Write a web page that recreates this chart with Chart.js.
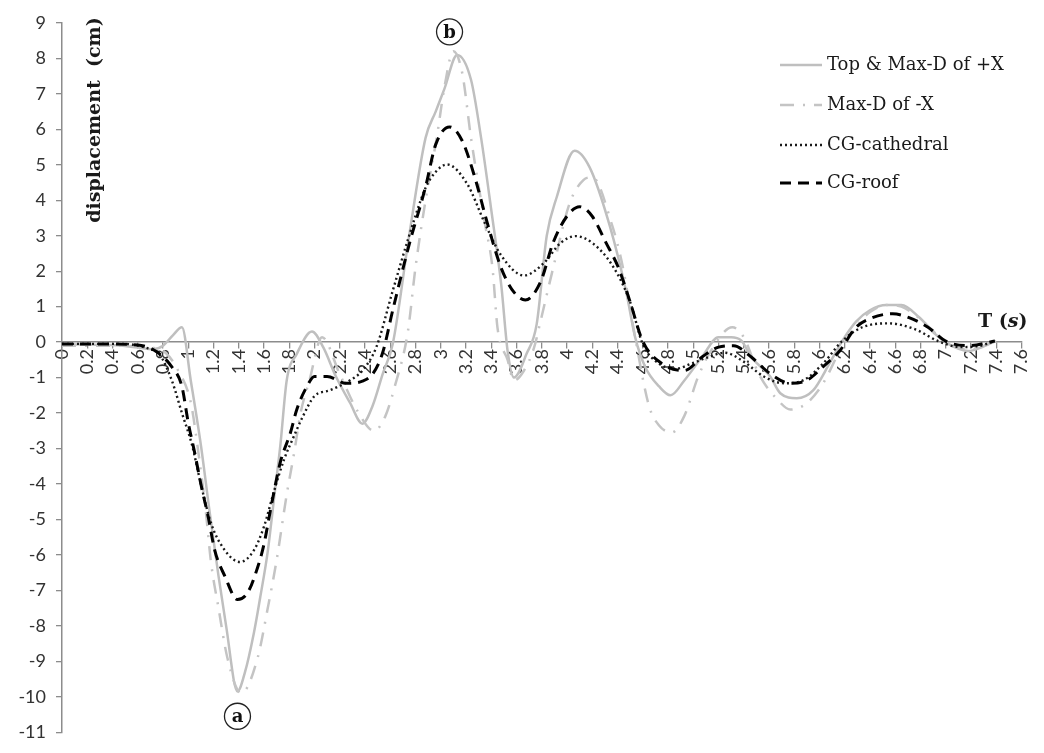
<!DOCTYPE html>
<html>
<head>
<meta charset="utf-8">
<script src="https://cdn.jsdelivr.net/npm/chart.js@4/dist/chart.umd.min.js"></script>
<style>
  html, body { margin: 0; background: #fff; }
</style>
</head>
<body>
<canvas id="chart" width="1044" height="753"></canvas>
<script>
// series: Top & Max-D of +X
const tPlusX = [0,0.2,0.4,0.6,0.72,0.8,0.88,0.95,1.02,1.1,1.17,1.24,1.3,1.39,1.45,1.52,1.57,1.63,1.68,1.73,1.78,1.86,1.98,2.07,2.17,2.28,2.38,2.46,2.54,2.62,2.75,2.88,2.96,3.03,3.13,3.24,3.32,3.4,3.48,3.53,3.58,3.68,3.76,3.84,3.92,4.06,4.18,4.34,4.47,4.54,4.62,4.73,4.82,4.93,5.07,5.2,5.3,5.38,5.46,5.61,5.69,5.82,5.95,6.08,6.18,6.29,6.4,6.53,6.65,6.79,6.92,7.02,7.18,7.28,7.39];
const dPlusX = [-0.05,-0.07,-0.08,-0.15,-0.2,-0.1,0.2,0.42,-1.08,-2.9,-4.8,-6.6,-8.0,-9.85,-9.3,-8.2,-7.2,-5.9,-4.4,-2.9,-1.08,-0.33,0.3,-0.15,-0.97,-1.7,-2.3,-1.8,-0.9,-0.05,3.0,5.76,6.5,7.15,8.1,7.4,5.76,3.74,1.6,-0.25,-1.0,-0.33,0.5,3.0,4.1,5.4,4.93,3.27,1.41,0.14,-0.7,-1.25,-1.5,-1.08,-0.42,0.14,0.14,0.05,-0.42,-0.97,-1.44,-1.58,-1.36,-0.6,0.03,0.58,0.9,1.05,1.05,0.7,0.22,-0.05,-0.25,-0.15,0.03];

// series: Max-D of -X
const tMinusX = [0,0.3,0.6,0.7,0.82,0.92,1.02,1.08,1.14,1.18,1.24,1.31,1.42,1.55,1.63,1.7,1.78,1.84,1.89,1.96,2.06,2.2,2.35,2.47,2.56,2.64,2.74,2.8,2.88,2.97,3.03,3.1,3.17,3.24,3.35,3.41,3.45,3.53,3.58,3.66,3.74,3.79,3.89,4.02,4.13,4.2,4.36,4.44,4.54,4.65,4.73,4.83,4.93,5.04,5.14,5.31,5.4,5.52,5.67,5.77,5.9,6.03,6.16,6.26,6.4,6.55,6.65,6.8,6.95,7.05,7.2,7.3,7.4];
const dMinusX = [-0.1,-0.1,-0.12,-0.15,-0.3,-0.8,-1.7,-3.1,-4.8,-6.2,-7.5,-8.9,-9.9,-8.9,-7.5,-6.15,-4.3,-3.1,-2.0,-1.08,0.14,-0.9,-2.0,-2.5,-2.1,-1.2,0.3,2.1,4.0,5.8,7.2,8.2,7.6,5.76,3.35,2.1,0.4,-0.5,-1.08,-0.8,-0.15,0.58,2.08,3.9,4.57,4.65,3.27,2.16,0.14,-1.8,-2.35,-2.55,-2.08,-0.97,-0.25,0.42,0.14,-0.9,-1.63,-1.9,-1.72,-1.16,-0.25,0.3,0.85,1.05,1.0,0.65,0.15,-0.1,-0.2,-0.1,0.03];

// series: CG-cathedral
const tCathedral = [0,0.3,0.5,0.6,0.7,0.77,0.87,0.95,1.03,1.1,1.18,1.29,1.41,1.52,1.6,1.68,1.76,1.84,1.91,2.0,2.12,2.28,2.38,2.49,2.62,2.75,2.88,2.96,3.05,3.21,3.35,3.48,3.66,3.82,3.95,4.07,4.2,4.36,4.5,4.6,4.7,4.86,4.99,5.1,5.25,5.4,5.56,5.72,5.87,6.03,6.18,6.34,6.55,6.76,6.94,7.12,7.25,7.39];
const dCathedral = [-0.05,-0.05,-0.05,-0.1,-0.2,-0.33,-1.08,-2.0,-2.9,-4.0,-5.1,-5.87,-6.2,-5.87,-5.2,-4.2,-3.3,-2.63,-2.08,-1.52,-1.36,-1.08,-0.8,-0.14,1.45,3.0,4.35,4.8,5.01,4.46,3.35,2.44,1.88,2.24,2.8,2.99,2.8,2.16,1.14,-0.05,-0.53,-0.75,-0.6,-0.45,-0.3,-0.55,-0.97,-1.16,-1.08,-0.6,0.03,0.42,0.53,0.36,0.03,-0.14,-0.12,0.03];

// series: CG-roof
const tRoof = [0,0.3,0.6,0.74,0.87,0.95,1.0,1.05,1.1,1.16,1.21,1.29,1.39,1.47,1.55,1.6,1.65,1.73,1.81,1.86,1.94,2.0,2.1,2.25,2.38,2.46,2.54,2.62,2.75,2.88,2.96,3.07,3.17,3.27,3.37,3.48,3.58,3.67,3.79,3.89,4.0,4.1,4.2,4.31,4.41,4.5,4.6,4.75,4.93,5.07,5.2,5.32,5.46,5.61,5.77,5.9,6.03,6.16,6.29,6.42,6.58,6.71,6.86,7.0,7.18,7.39];
const dRoof = [-0.05,-0.05,-0.08,-0.25,-0.7,-1.25,-2.27,-3.1,-4.0,-4.96,-5.87,-6.6,-7.26,-7.07,-6.35,-5.7,-4.76,-3.38,-2.55,-1.9,-1.25,-0.97,-0.97,-1.16,-1.1,-0.9,-0.3,0.9,2.75,4.38,5.57,6.07,5.68,4.65,3.35,2.08,1.41,1.19,1.69,2.8,3.55,3.82,3.55,2.8,2.08,1.14,0.03,-0.6,-0.8,-0.42,-0.14,-0.1,-0.42,-0.89,-1.16,-1.08,-0.69,-0.25,0.42,0.69,0.8,0.69,0.42,0.03,-0.1,0.03];

const seriesNames = ["Top & Max-D of +X", "Max-D of -X", "CG-cathedral", "CG-roof"];
const xMin = 0, xMax = 7.6, xStep = 0.2;
const yMin = -11, yMax = 9, yStep = 1;

// circled markers: [label, t, value]
const markers = [["a", 1.39, -10.55], ["b", 3.07, 8.75]];

function pts(t, d) {
  return t.map(function (v, i) { return { x: v, y: d[i] }; });
}

const tickFont = { family: "Lato", size: 18 };
const serif = '"DejaVu Serif"';

// legend, axis texts and circled letters
const overlay = {
  id: "overlay",
  afterDraw(chart) {
    const ctx = chart.ctx;
    const xs = chart.scales.x, ys = chart.scales.y;
    ctx.save();

    // y title inside the plot
    ctx.save();
    ctx.translate(95, 120);
    ctx.rotate(-Math.PI / 2);
    ctx.font = "bold 19px " + serif;
    ctx.fillStyle = "#1a1a1a";
    ctx.textAlign = "center";
    ctx.textBaseline = "middle";
    ctx.fillText("displacement  (cm)", 0, 0);
    ctx.restore();

    // x title  T (s)
    ctx.fillStyle = "#1a1a1a";
    ctx.textBaseline = "middle";
    ctx.textAlign = "left";
    let tx = 978, ty = 322;
    ctx.font = "bold 19px " + serif;
    ctx.fillText("T (", tx, ty);
    tx += ctx.measureText("T (").width;
    ctx.font = "italic bold 19px " + serif;
    ctx.fillText("s", tx, ty);
    tx += ctx.measureText("s").width;
    ctx.font = "bold 19px " + serif;
    ctx.fillText(")", tx, ty);

    // circled letters
    markers.forEach(function (m) {
      const cx = xs.getPixelForValue(m[1]);
      const cy = ys.getPixelForValue(m[2]);
      ctx.beginPath();
      ctx.arc(cx, cy, 13, 0, Math.PI * 2);
      ctx.strokeStyle = "#222";
      ctx.lineWidth = 1.3;
      ctx.setLineDash([]);
      ctx.stroke();
      ctx.font = "bold 18px " + serif;
      ctx.textAlign = "center";
      ctx.fillStyle = "#111";
      ctx.fillText(m[0], cx, cy + 1);
    });

    // legend
    const rows = [65, 105, 145, 183];
    chart.data.datasets.forEach(function (ds, i) {
      const yy = rows[i];
      ctx.beginPath();
      ctx.moveTo(780, yy);
      ctx.lineTo(822, yy);
      ctx.strokeStyle = ds.borderColor;
      ctx.lineWidth = ds.borderWidth;
      ctx.setLineDash(ds.borderDash || []);
      ctx.stroke();
      ctx.setLineDash([]);
      ctx.font = "18px " + serif;
      ctx.textAlign = "left";
      ctx.fillStyle = "#1a1a1a";
      ctx.fillText(seriesNames[i], 827, yy);
    });
    ctx.restore();
  }
};

const ctx = document.getElementById("chart").getContext("2d");

new Chart(ctx, {
  type: "line",
  data: {
    datasets: [
      {
        label: seriesNames[0],
        data: pts(tPlusX, dPlusX),
        borderColor: "#bfbfbf",
        borderWidth: 2.5,
        order: 4
      },
      {
        label: seriesNames[1],
        data: pts(tMinusX, dMinusX),
        borderColor: "#c4c4c4",
        borderWidth: 2.5,
        borderDash: [14, 9, 2, 9],
        order: 3
      },
      {
        label: seriesNames[2],
        data: pts(tCathedral, dCathedral),
        borderColor: "#1a1a1a",
        borderWidth: 2.4,
        borderDash: [2, 3],
        order: 2
      },
      {
        label: seriesNames[3],
        data: pts(tRoof, dRoof),
        borderColor: "#000000",
        borderWidth: 3,
        borderDash: [11, 7],
        order: 1
      }
    ]
  },
  options: {
    responsive: false,
    animation: false,
    devicePixelRatio: 1,
    layout: { padding: { left: 0, right: 10, top: 23, bottom: 7 } },
    elements: {
      point: { radius: 0 },
      line: { cubicInterpolationMode: "monotone", fill: false }
    },
    plugins: {
      legend: { display: false },
      tooltip: { enabled: false }
    },
    scales: {
      x: {
        type: "linear",
        position: { y: 0 },
        min: xMin,
        max: xMax,
        grid: { drawOnChartArea: false, drawTicks: true, tickLength: 6, color: "#8c8c8c", lineWidth: 1.3 },
        border: { color: "#8c8c8c", width: 1.5 },
        ticks: {
          stepSize: xStep,
          autoSkip: false,
          minRotation: 90,
          maxRotation: 90,
          padding: 1,
          color: "#333",
          font: tickFont,
          callback: function (v) { return String(Math.round(v * 10) / 10); }
        }
      },
      y: {
        type: "linear",
        min: yMin,
        max: yMax,
        afterFit: function (scale) { scale.width = 62; },
        grid: { drawOnChartArea: false, drawTicks: true, tickLength: 6, color: "#8c8c8c", lineWidth: 1.3 },
        border: { color: "#8c8c8c", width: 1.5 },
        ticks: {
          stepSize: yStep,
          padding: 10,
          color: "#333",
          font: tickFont
        }
      }
    }
  },
  plugins: [overlay]
});
</script>
</body>
</html>
